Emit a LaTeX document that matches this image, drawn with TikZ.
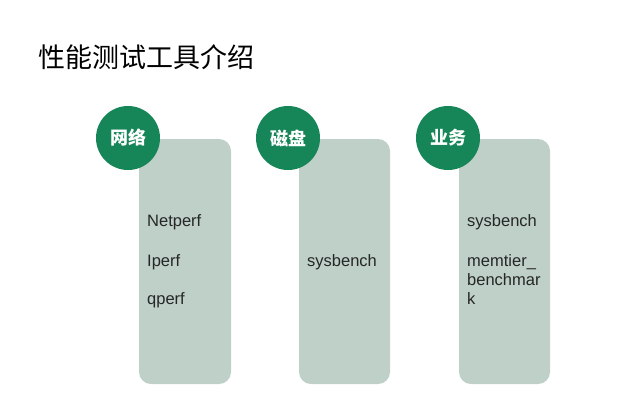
\documentclass[tikz,border=0pt]{standalone}
\usepackage{fontspec}
\setmainfont{Liberation Sans}
\newfontfamily\cjk{Noto Sans CJK SC}
\definecolor{boxgray}{RGB}{190,208,200}
\definecolor{tagteal}{RGB}{22,134,88}
\begin{document}
\begin{tikzpicture}[x=1pt,y=-1pt,
	toolbox/.style={fill=boxgray, rounded corners=12pt, inner sep=0pt},
	tagdot/.style={circle, fill=tagteal, minimum size=64pt, inner sep=0pt, text=white, font=\cjk\fontsize{18}{18}\selectfont\bfseries},
	toollist/.style={anchor=west, align=left, inner sep=0pt, font=\fontsize{16.5}{19}\selectfont, text=black!85}]

	\useasboundingbox (0,0) rectangle (617,413);

	% Title
	\node[anchor=west, inner sep=0pt, font=\cjk\fontsize{27}{27}\selectfont] (title) at (38,57) {性能测试工具介绍};

	% Boxes
	\fill[toolbox] (139,139) rectangle (231,384);
	\fill[toolbox] (299,139) rectangle (390,384);
	\fill[toolbox] (459,139) rectangle (550,384);

	% Tags
	\node[tagdot] (net) at (128,138) {网络};
	\node[tagdot] (disk) at (288,138) {磁盘};
	\node[tagdot] (biz) at (448,138) {业务};

	% Tools
	\node[toollist] (netperf) at (147,222) {Netperf};
	\node[toollist] (iperf) at (147,262) {Iperf};
	\node[toollist] (qperf) at (147,300) {qperf};
	\node[toollist] (disktools) at (307,262) {sysbench};
	\node[toollist] (sysbench) at (467,222) {sysbench};
	\node[toollist, anchor=north west] (memtier) at (467,254) {memtier\_\\benchmar\\k};

\end{tikzpicture}
\end{document}
